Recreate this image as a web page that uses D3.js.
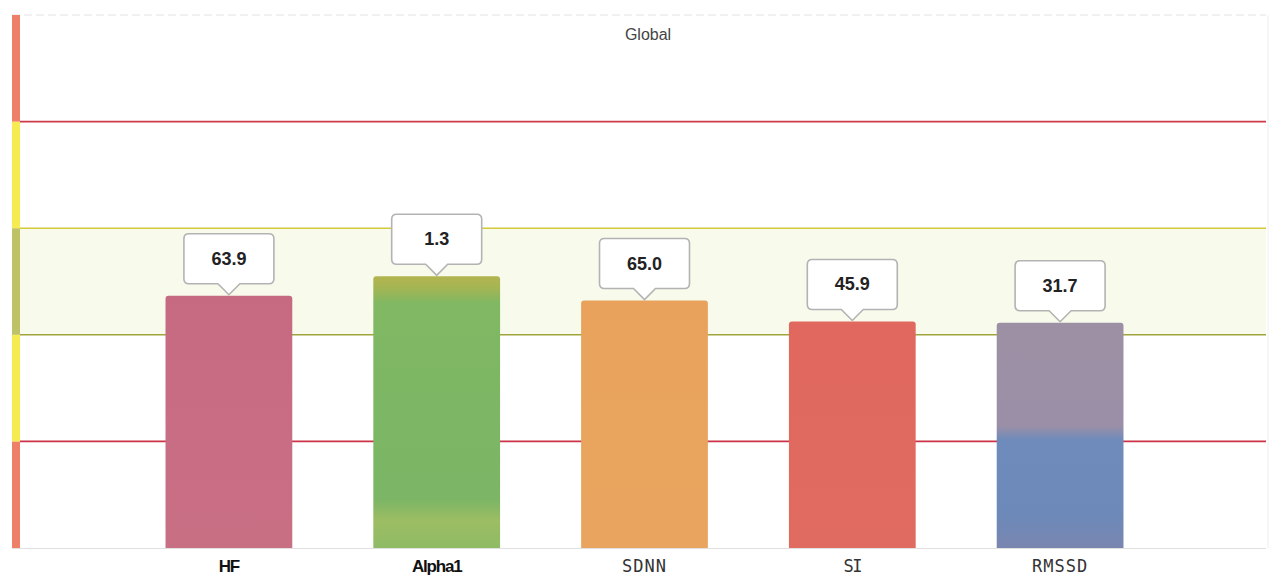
<!DOCTYPE html>
<html>
<head>
<meta charset="utf-8">
<script src="https://cdn.jsdelivr.net/npm/d3@7"></script>
<style>
  html, body { margin: 0; padding: 0; background: #ffffff; }
  svg { display: block; }
</style>
</head>
<body>
<svg id="chart" width="1274" height="578"></svg>
<script>
// Indicator names along the x axis
const categories = ["HF", "Alpha1", "SDNN", "SI", "RMSSD"];
// Measured values shown in the callouts
const values = [63.9, 1.3, 65.0, 45.9, 31.7];
// Full-scale value of each indicator (top of the zone chart)
const fullScale = [135, 2.55, 140, 108, 75];
// Zone bands from bottom to top, in normalised units 0..5
const zoneNames = ["low-critical", "low-warning", "normal", "high-warning", "high-critical"];
const zoneStops = [0, 1, 2, 3, 4, 5];

const W = 1274, H = 578;
const plot = { left: 20, right: 1266, top: 15, bottom: 548 };

const svg = d3.select("#chart");
const defs = svg.append("defs");

// Shared vertical zone scale
const zoneY = d3.scaleLinear().domain([0, 5]).range([plot.bottom, plot.top]);

// Bar positions
const x = d3.scaleBand()
  .domain(categories)
  .range([125, 1164])
  .paddingInner(0.39)
  .paddingOuter(0.195);

// Zone colours
const stripColors = ["#ee7f69", "#f6ec52", "#bcc265", "#f6ec52", "#ee7f69"];
const boundaryColors = ["#cc3347", "#9fa53c", "#d4c93a", "#cf3a4b"];

// Normal band background
svg.append("rect")
  .attr("x", plot.left)
  .attr("y", zoneY(3))
  .attr("width", plot.right - plot.left)
  .attr("height", zoneY(2) - zoneY(3))
  .attr("fill", "#f8faeb");

// Top dotted frame line, right edge and baseline
svg.append("line")
  .attr("x1", 12).attr("x2", plot.right)
  .attr("y1", plot.top).attr("y2", plot.top)
  .attr("stroke", "#e2e2e2").attr("stroke-width", 1)
  .attr("stroke-dasharray", "8,4");
svg.append("line")
  .attr("x1", plot.right + 2).attr("x2", plot.right + 2)
  .attr("y1", plot.top).attr("y2", plot.bottom)
  .attr("stroke", "#f0f0f0").attr("stroke-width", 1);
svg.append("line")
  .attr("x1", 12).attr("x2", plot.right)
  .attr("y1", plot.bottom + 0.5).attr("y2", plot.bottom + 0.5)
  .attr("stroke", "#e0e0e0").attr("stroke-width", 1);

// Zone boundary lines
svg.append("g").selectAll("line")
  .data(zoneStops.slice(1, 5))
  .join("line")
  .attr("x1", plot.left).attr("x2", plot.right)
  .attr("y1", d => zoneY(d)).attr("y2", d => zoneY(d))
  .attr("stroke", (d, i) => boundaryColors[i])
  .attr("stroke-width", 1.6);

// Coloured zone strip on the left
svg.append("g").selectAll("rect")
  .data(zoneNames)
  .join("rect")
  .attr("x", 12)
  .attr("width", 8)
  .attr("y", (d, i) => zoneY(zoneStops[i + 1]))
  .attr("height", (d, i) => zoneY(zoneStops[i]) - zoneY(zoneStops[i + 1]))
  .attr("fill", (d, i) => stripColors[i]);

// Subtitle
svg.append("text")
  .attr("x", 648).attr("y", 40)
  .attr("text-anchor", "middle")
  .attr("font-family", "Liberation Sans, Arial, sans-serif")
  .attr("font-size", 16)
  .attr("fill", "#444")
  .text("Global");

// Bar fills
const barGradients = [
  [[0, "#c66a82"], [1, "#c96f84"]],
  [[0, "#b2b44f"], [0.04, "#a6b553"], [0.1, "#80b863"], [0.82, "#7bb565"], [0.9, "#9cbd63"], [1, "#8fbb66"]],
  [[0, "#e8a25b"], [1, "#e9a55f"]],
  [[0, "#e0685e"], [1, "#e06b61"]],
  [[0, "#9d90a4"], [0.46, "#9a8fa7"], [0.52, "#6e8bbb"], [0.85, "#6c89b9"], [1, "#7a86b0"]]
];
barGradients.forEach((stops, i) => {
  const g = defs.append("linearGradient")
    .attr("id", "bar" + i)
    .attr("x1", 0).attr("y1", 0).attr("x2", 0).attr("y2", 1);
  stops.forEach(s => g.append("stop").attr("offset", s[0]).attr("stop-color", s[1]));
});

// Each indicator has its own value scale over the zone chart
const barScales = fullScale.map(m => d3.scaleLinear().domain([0, m]).range([plot.bottom, plot.top]));

function topRounded(x0, y0, w, h, r) {
  return `M${x0},${y0 + h}V${y0 + r}Q${x0},${y0} ${x0 + r},${y0}H${x0 + w - r}Q${x0 + w},${y0} ${x0 + w},${y0 + r}V${y0 + h}Z`;
}

const bars = categories.map((c, i) => ({
  name: c,
  value: values[i],
  x: x(c),
  top: barScales[i](values[i]),
  i
}));

svg.append("g").selectAll("path")
  .data(bars)
  .join("path")
  .attr("d", d => topRounded(d.x, d.top, x.bandwidth(), plot.bottom - d.top, 3))
  .attr("fill", d => `url(#bar${d.i})`);

// Value callouts
const boxW = 90, boxH = 50, gap = 11, tipW = 11;
const callouts = svg.append("g").selectAll("g")
  .data(bars)
  .join("g")
  .attr("transform", d => `translate(${d.x + x.bandwidth() / 2},${d.top - 1})`);

callouts.append("path")
  .attr("d", () => {
    const r = 5, l = -boxW / 2, rgt = boxW / 2, t = -gap - boxH, b = -gap;
    return `M${l + r},${t}H${rgt - r}Q${rgt},${t} ${rgt},${t + r}V${b - r}Q${rgt},${b} ${rgt - r},${b}` +
      `H${tipW}L0,0L${-tipW},${b}H${l + r}Q${l},${b} ${l},${b - r}V${t + r}Q${l},${t} ${l + r},${t}Z`;
  })
  .attr("fill", "#ffffff")
  .attr("stroke", "#b3b3b3")
  .attr("stroke-width", 1.6);

callouts.append("text")
  .attr("y", -gap - boxH / 2 + 6)
  .attr("text-anchor", "middle")
  .attr("font-family", "Liberation Sans, Arial, sans-serif")
  .attr("font-weight", "bold")
  .attr("font-size", 18)
  .attr("fill", "#222")
  .text(d => d.value.toFixed(1));

// Category labels
const labelStyle = [
  { family: "Liberation Sans Narrow, Liberation Sans, Arial, sans-serif", weight: "bold", size: 17, spacing: -1.2, color: "#111" },
  { family: "Liberation Sans Narrow, Liberation Sans, Arial, sans-serif", weight: "bold", size: 17, spacing: -1.2, color: "#111" },
  { family: "DejaVu Sans Mono, Liberation Mono, monospace", weight: "normal", size: 17, spacing: 1, color: "#333" },
  { family: "DejaVu Sans Mono, Liberation Mono, monospace", weight: "normal", size: 17, spacing: -1.5, color: "#333" },
  { family: "DejaVu Sans Mono, Liberation Mono, monospace", weight: "normal", size: 17, spacing: 1, color: "#333" }
];
svg.append("g").selectAll("text")
  .data(bars)
  .join("text")
  .attr("x", d => d.x + x.bandwidth() / 2)
  .attr("y", 572)
  .attr("text-anchor", "middle")
  .attr("font-family", d => labelStyle[d.i].family)
  .attr("font-weight", d => labelStyle[d.i].weight)
  .attr("font-size", d => labelStyle[d.i].size)
  .attr("letter-spacing", d => labelStyle[d.i].spacing)
  .attr("fill", d => labelStyle[d.i].color)
  .text(d => d.name);
</script>
</body>
</html>
